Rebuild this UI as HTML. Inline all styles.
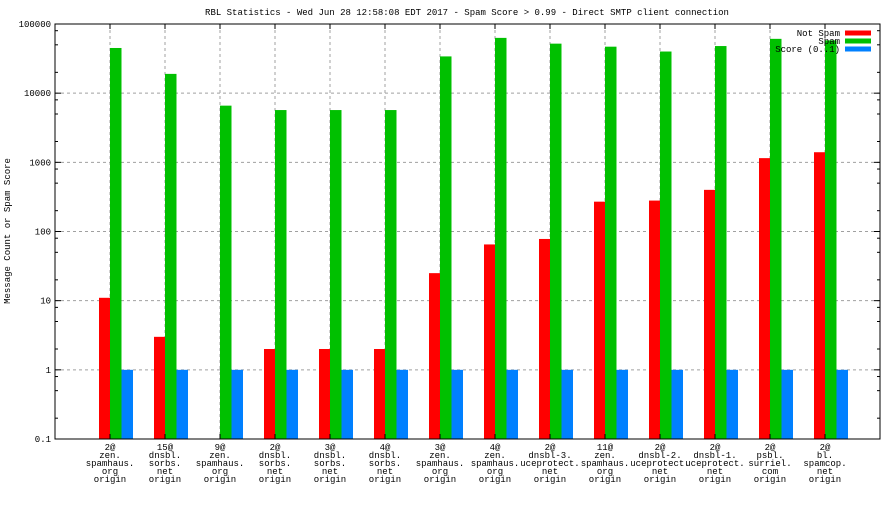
<!DOCTYPE html>
<html><head><meta charset="utf-8"><style>
body{margin:0;background:#fff}
svg text{font-family:"Liberation Mono",monospace;font-size:9px;fill:#000}
</style></head><body>
<svg id="s" width="896" height="504" xmlns="http://www.w3.org/2000/svg"></svg>
<script>
const s=document.getElementById('s');
let h='';
const L=55,R=880,T=24,B=439,D=(B-T)/6;
const y=v=>B-D*(Math.log10(v)+1);
h+=`<text x="467" y="15" text-anchor="middle">RBL Statistics - Wed Jun 28 12:58:08 EDT 2017 - Spam Score &gt; 0.99 - Direct SMTP client connection</text>`;
// grid
for(let i=1;i<6;i++){const yy=T+i*D;h+=`<line x1="${L}" x2="${R}" y1="${yy}" y2="${yy}" stroke="#a0a0a0" stroke-dasharray="3,3"/>`;}
for(let i=0;i<14;i++){const xx=110+i*55;h+=`<line x1="${xx}" x2="${xx}" y1="${T}" y2="${B}" stroke="#a0a0a0" stroke-dasharray="3,3"/>`;}
const red=[11,3,0,2,2,2,25,65,78,270,280,400,1150,1400];
const green=[45000,19000,6600,5700,5700,5700,34000,63000,52000,47000,40000,48000,61000,58000];
const labs=[["2@","zen.","spamhaus.","org","origin"],["15@","dnsbl.","sorbs.","net","origin"],["9@","zen.","spamhaus.","org","origin"],["2@","dnsbl.","sorbs.","net","origin"],["3@","dnsbl.","sorbs.","net","origin"],["4@","dnsbl.","sorbs.","net","origin"],["3@","zen.","spamhaus.","org","origin"],["4@","zen.","spamhaus.","org","origin"],["2@","dnsbl-3.","uceprotect.","net","origin"],["11@","zen.","spamhaus.","org","origin"],["2@","dnsbl-2.","uceprotect.","net","origin"],["2@","dnsbl-1.","uceprotect.","net","origin"],["2@","psbl.","surriel.","com","origin"],["2@","bl.","spamcop.","net","origin"]];
for(let i=0;i<14;i++){const c=110+i*55;
 if(red[i]>0)h+=`<rect x="${c-11}" y="${y(red[i])}" width="11" height="${B-y(red[i])}" fill="#ff0000"/>`;
 h+=`<rect x="${c}" y="${y(green[i])}" width="11.5" height="${B-y(green[i])}" fill="#00c000"/>`;
 h+=`<rect x="${c+11.5}" y="${y(1)}" width="11.5" height="${B-y(1)}" fill="#0080ff"/>`;
 labs[i].forEach((t,j)=>{h+=`<text x="${c}" y="${450+j*8}" text-anchor="middle">${t}</text>`;});
}
// axes & ticks
h+=`<rect x="${L}" y="${T}" width="${R-L}" height="${B-T}" fill="none" stroke="#000"/>`;
const yl=["100000","10000","1000","100","10","1","0.1"];
for(let i=0;i<=6;i++){const yy=T+i*D;h+=`<line x1="${L}" x2="${L+6}" y1="${yy}" y2="${yy}" stroke="#000"/><line x1="${R}" x2="${R-6}" y1="${yy}" y2="${yy}" stroke="#000"/>`;
 h+=`<text x="${L-4}" y="${yy+3}" text-anchor="end">${yl[i]}</text>`;
 if(i<6)[2,5,8].forEach(m=>{const my=yy+D-D*Math.log10(m);h+=`<line x1="${L}" x2="${L+3}" y1="${my}" y2="${my}" stroke="#000"/><line x1="${R}" x2="${R-3}" y1="${my}" y2="${my}" stroke="#000"/>`;});}
for(let i=0;i<14;i++){const xx=110+i*55;h+=`<line x1="${xx}" x2="${xx}" y1="${T}" y2="${T+5}" stroke="#000"/><line x1="${xx}" x2="${xx}" y1="${B}" y2="${B-5}" stroke="#000"/>`;}
h+=`<text transform="translate(10,231) rotate(-90)" text-anchor="middle">Message Count or Spam Score</text>`;
// legend
[["Not Spam","#ff0000"],["Spam","#00c000"],["Score (0..1)","#0080ff"]].forEach((l,j)=>{const yy=33+j*8;
 h+=`<text x="840" y="${yy+3}" text-anchor="end">${l[0]}</text><rect x="845" y="${yy-2.5}" width="26" height="5" fill="${l[1]}"/>`;});
s.innerHTML=h;
</script>
</body></html>
